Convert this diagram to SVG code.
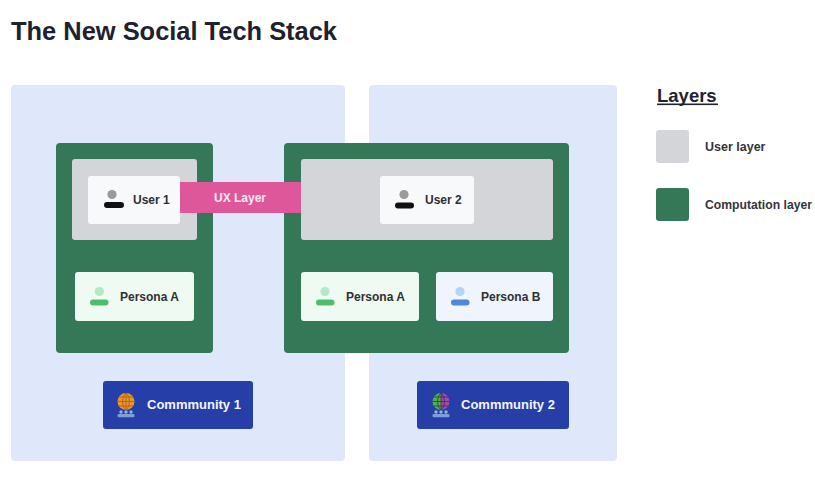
<svg xmlns="http://www.w3.org/2000/svg" width="815" height="489" viewBox="0 0 815 489">
<style>
.panel{fill:#dee8fa}
.comp{fill:#347858}
.ulayer{fill:#d3d5d9}
.card{fill:#f8f9fa}
.pa{fill:#effaf3}
.pb{fill:#eff4fd}
.comm{fill:#263ea8}
.t{font-family:"Liberation Sans",Arial,sans-serif;font-weight:bold;font-size:12px;fill:#2e3036}
.tw{font-family:"Liberation Sans",Arial,sans-serif;font-weight:bold;font-size:13px;fill:#f4f6fc}
.lg{font-family:"Liberation Sans",Arial,sans-serif;font-weight:bold;font-size:12.5px;fill:#33353b}
</style>
<defs>
<g id="people">
<circle cx="-5" cy="0" r="1.7" fill="#8fb0e6"/><circle cx="0" cy="0" r="1.7" fill="#8fb0e6"/><circle cx="5" cy="0" r="1.7" fill="#8fb0e6"/>
<rect x="-8.5" y="2" width="17" height="3.2" rx="1.2" fill="#7d9fd8"/>
</g>
</defs>
<rect width="815" height="489" fill="#ffffff"/>
<text x="11" y="40" font-family="'Liberation Sans',Arial,sans-serif" font-weight="bold" font-size="25" fill="#1e2130" textLength="326" lengthAdjust="spacingAndGlyphs">The New Social Tech Stack</text>

<g id="panel-1"><rect class="panel" x="11" y="85" width="334" height="376" rx="4"/></g>
<g id="panel-2"><rect class="panel" x="369" y="85" width="248" height="376" rx="4"/></g>

<g id="computation-1"><rect class="comp" x="56" y="143" width="157" height="210" rx="4"/></g>
<g id="computation-2"><rect class="comp" x="284" y="143" width="285" height="210" rx="4"/></g>

<g id="user-layer-1"><rect class="ulayer" x="72" y="159" width="125" height="81" rx="3"/></g>
<g id="user-layer-2"><rect class="ulayer" x="301" y="159" width="252" height="81" rx="3"/></g>

<g id="ux-layer">
<rect x="180" y="182" width="121" height="31" fill="#df579b"/>
<text class="t" x="240" y="202" text-anchor="middle" style="fill:#fbe8f2">UX Layer</text>
</g>

<g id="user-1">
<rect class="card" x="88" y="176" width="92" height="48" rx="3"/>
<circle cx="112" cy="194.5" r="4.6" fill="#9a9a9a"/>
<rect x="104" y="202" width="20" height="6" rx="3" fill="#111111"/>
<text class="t" x="133" y="204">User 1</text>
</g>

<g id="user-2">
<rect class="card" x="380" y="176" width="94" height="48" rx="3"/>
<circle cx="404" cy="194.5" r="4.6" fill="#9a9a9a"/>
<rect x="395" y="202.5" width="19" height="6" rx="3" fill="#111111"/>
<text class="t" x="425" y="204">User 2</text>
</g>

<g id="persona-a-1">
<rect class="pa" x="75" y="272" width="119" height="49" rx="3"/>
<circle cx="99.3" cy="291.5" r="4.6" fill="#b6e8c6"/>
<rect x="90" y="299.5" width="18.5" height="6" rx="3" fill="#4dbf6c"/>
<text class="t" x="120" y="301">Persona A</text>
</g>

<g id="persona-a-2">
<rect class="pa" x="301" y="272" width="118" height="49" rx="3"/>
<circle cx="325" cy="291.5" r="4.6" fill="#b6e8c6"/>
<rect x="316" y="299.5" width="18.5" height="6" rx="3" fill="#4dbf6c"/>
<text class="t" x="346" y="301">Persona A</text>
</g>

<g id="persona-b">
<rect class="pb" x="436" y="272" width="117" height="49" rx="3"/>
<circle cx="460" cy="291.5" r="4.6" fill="#b4d4f3"/>
<rect x="451" y="299.5" width="18.5" height="6" rx="3" fill="#4a8ad6"/>
<text class="t" x="481" y="301">Persona B</text>
</g>

<g id="community-1">
<rect class="comm" x="103" y="381" width="150" height="48" rx="3"/>
<circle cx="126" cy="401.5" r="8.5" fill="#e9962a"/>
<path d="M117.5 401.5h17M126 393v17M118.8 397h14.4M118.8 406h14.4M126 393c-4.5 3.5-4.5 13.5 0 17M126 393c4.5 3.5 4.5 13.5 0 17" stroke="#b85d12" stroke-width="0.9" fill="none"/>
<use href="#people" x="126" y="412"/>
<text class="tw" x="147" y="409">Commmunity 1</text>
</g>

<g id="community-2">
<rect class="comm" x="417" y="381" width="152" height="48" rx="3"/>
<path d="M441 393a8.5 8.5 0 0 0 0 17z" fill="#4fb54a"/>
<path d="M441 393a8.5 8.5 0 0 1 0 17z" fill="#a54aa8"/>
<path d="M432.5 401.5h17M441 393v17M433.8 397h14.4M433.8 406h14.4M441 393c-4.5 3.5-4.5 13.5 0 17M441 393c4.5 3.5 4.5 13.5 0 17" stroke="#3a2a5a" stroke-width="0.8" fill="none"/>
<use href="#people" x="441" y="412"/>
<text class="tw" x="461" y="409">Commmunity 2</text>
</g>

<g id="connectors"></g>

<g id="legend">
<text x="657" y="102" font-family="'Liberation Sans',Arial,sans-serif" font-weight="bold" font-size="18.5" fill="#1e2130">Layers</text>
<rect x="657" y="103.5" width="61" height="1.6" fill="#1e2130"/>
<rect class="ulayer" x="656" y="130" width="33" height="33" rx="3"/>
<text class="lg" x="705" y="151">User layer</text>
<rect class="comp" x="656" y="188" width="33" height="33" rx="3"/>
<text class="lg" x="705" y="209" textLength="107" lengthAdjust="spacingAndGlyphs">Computation layer</text>
</g>
</svg>
